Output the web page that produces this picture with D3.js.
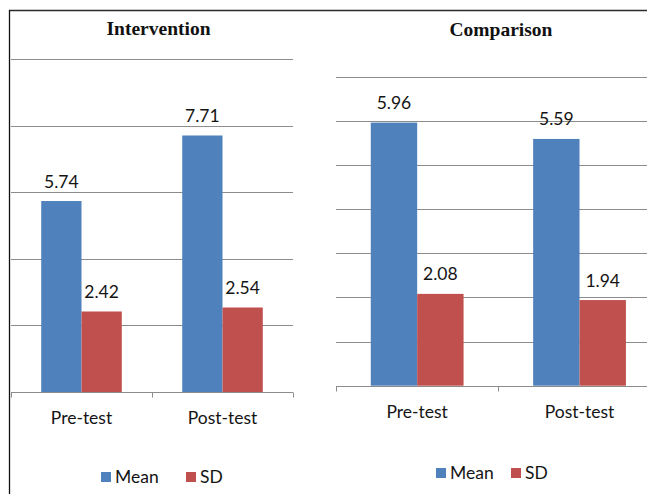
<!DOCTYPE html>
<html>
<head>
<meta charset="utf-8">
<script src="https://cdn.jsdelivr.net/npm/d3@7"></script>
<style>
  body { margin: 0; background: #fff; }
  svg { display: block; }
</style>
</head>
<body>
<div id="chart"></div>
<script>
var categories = ["Pre-test", "Post-test"];
var series = ["Mean", "SD"];
var colors = ["#4f81bd", "#c0504d"];

// values (Mean, SD per category)
var interventionMean = [5.74, 7.71];
var interventionSD = [2.42, 2.54];
var comparisonMean = [5.96, 5.59];
var comparisonSD = [2.08, 1.94];

var interventionTicks = [0, 2, 4, 6, 8, 10];
var comparisonTicks = [0, 1, 2, 3, 4, 5, 6, 7];

var width = 647, height = 494;

var svg = d3.select("#chart").append("svg")
    .attr("width", width)
    .attr("height", height);

var numFont = "Lato, 'Open Sans', sans-serif";
var numSize = "17.5px";

// frame lines
svg.append("line")
    .attr("x1", 9).attr("x2", width)
    .attr("y1", 10.5).attr("y2", 10.5)
    .style("stroke", "#2b2b2b").style("stroke-width", 1.5);
svg.append("line")
    .attr("x1", 9.5).attr("x2", 9.5)
    .attr("y1", 10).attr("y2", height)
    .style("stroke", "#111").style("stroke-width", 1.3);

function drawPanel(opts) {
    var g = svg.append("g");

    var y = d3.scaleLinear()
        .domain([0, opts.max])
        .range([opts.bottom, opts.top]);

    var x0 = d3.scaleBand()
        .domain(categories)
        .range([opts.left, opts.right])
        .padding(0);

    var x1 = d3.scaleBand()
        .domain(series)
        .range([0, x0.bandwidth()])
        .paddingInner(0)
        .paddingOuter(0.75);

    // gridlines
    g.append("g").selectAll("line")
        .data(opts.ticks.filter(d => d > 0))
        .join("line")
        .attr("x1", opts.left).attr("x2", opts.gridEnd)
        .attr("y1", d => Math.round(y(d)) + 0.5)
        .attr("y2", d => Math.round(y(d)) + 0.5)
        .style("stroke", "#8c8c8c")
        .style("stroke-width", 1);

    var rows = categories.map(function(c, i) {
        return { cat: c, vals: [opts.mean[i], opts.sd[i]] };
    });

    var groups = g.append("g").selectAll("g")
        .data(rows)
        .join("g")
        .attr("transform", d => "translate(" + x0(d.cat) + ",0)");

    groups.selectAll("rect")
        .data(d => d.vals.map((v, j) => ({ s: series[j], v: v, j: j })))
        .join("rect")
        .attr("x", d => x1(d.s))
        .attr("width", x1.bandwidth())
        .attr("y", d => y(d.v))
        .attr("height", d => opts.bottom - y(d.v))
        .style("fill", d => colors[d.j]);

    groups.selectAll("text")
        .data(d => d.vals.map((v, j) => ({ s: series[j], v: v })))
        .join("text")
        .attr("x", d => x1(d.s) + x1.bandwidth() / 2)
        .attr("y", d => y(d.v) - 13.5)
        .attr("text-anchor", "middle")
        .style("font-family", numFont)
        .style("font-size", numSize)
        .style("fill", "#141414")
        .text(d => d.v.toFixed(2));

    // x axis: baseline with ticks at category boundaries
    var xAxis = d3.axisBottom(x0).tickSize(0).tickPadding(0);
    var ax = g.append("g")
        .attr("transform", "translate(0," + (Math.round(opts.bottom) + 0.5) + ")")
        .call(xAxis);
    ax.select(".domain").remove();
    ax.selectAll("text")
        .attr("dy", null)
        .attr("y", 31)
        .style("font-family", numFont)
        .style("font-size", numSize)
        .style("fill", "#141414");

    ax.append("line")
        .attr("x1", opts.left).attr("x2", opts.gridEnd)
        .style("stroke", "#8c8c8c");
    var bounds = categories.map(c => x0(c)).concat([opts.right]);
    ax.selectAll(".bound")
        .data(bounds)
        .join("line")
        .attr("class", "bound")
        .attr("x1", d => Math.round(d) + 0.5).attr("x2", d => Math.round(d) + 0.5)
        .attr("y1", 0).attr("y2", 5)
        .style("stroke", "#8c8c8c");

    // title
    g.append("text")
        .attr("x", opts.titleX)
        .attr("y", opts.titleY)
        .attr("text-anchor", "middle")
        .style("font-family", "'Liberation Serif', 'Times New Roman', serif")
        .style("font-weight", "bold")
        .style("font-size", "19.5px")
        .style("fill", "#111")
        .text(opts.title);

    // legend
    var leg = g.append("g")
        .attr("transform", "translate(" + opts.legX + "," + opts.legY + ")");
    var items = [{ s: series[0], dx: 0 }, { s: series[1], dx: opts.legGap }];
    var it = leg.selectAll("g")
        .data(items)
        .join("g")
        .attr("transform", d => "translate(" + d.dx + ",0)");
    it.append("rect")
        .attr("x", 0).attr("y", -11)
        .attr("width", 10).attr("height", 10)
        .style("fill", (d, i) => colors[i]);
    it.append("text")
        .attr("x", 14)
        .attr("y", 0)
        .style("font-family", numFont)
        .style("font-size", numSize)
        .style("fill", "#141414")
        .text(d => d.s);
}

drawPanel({
    title: "Intervention", titleX: 158.5, titleY: 35,
    mean: interventionMean, sd: interventionSD,
    max: 10, ticks: interventionTicks,
    top: 59.3, bottom: 392, left: 11, right: 293, gridEnd: 293,
    legX: 101, legY: 483, legGap: 85
});

drawPanel({
    title: "Comparison", titleX: 501, titleY: 36,
    mean: comparisonMean, sd: comparisonSD,
    max: 7, ticks: comparisonTicks,
    top: 76.7, bottom: 385.7, left: 336, right: 660.7, gridEnd: width,
    legX: 436, legY: 479, legGap: 75
});
</script>
</body>
</html>
